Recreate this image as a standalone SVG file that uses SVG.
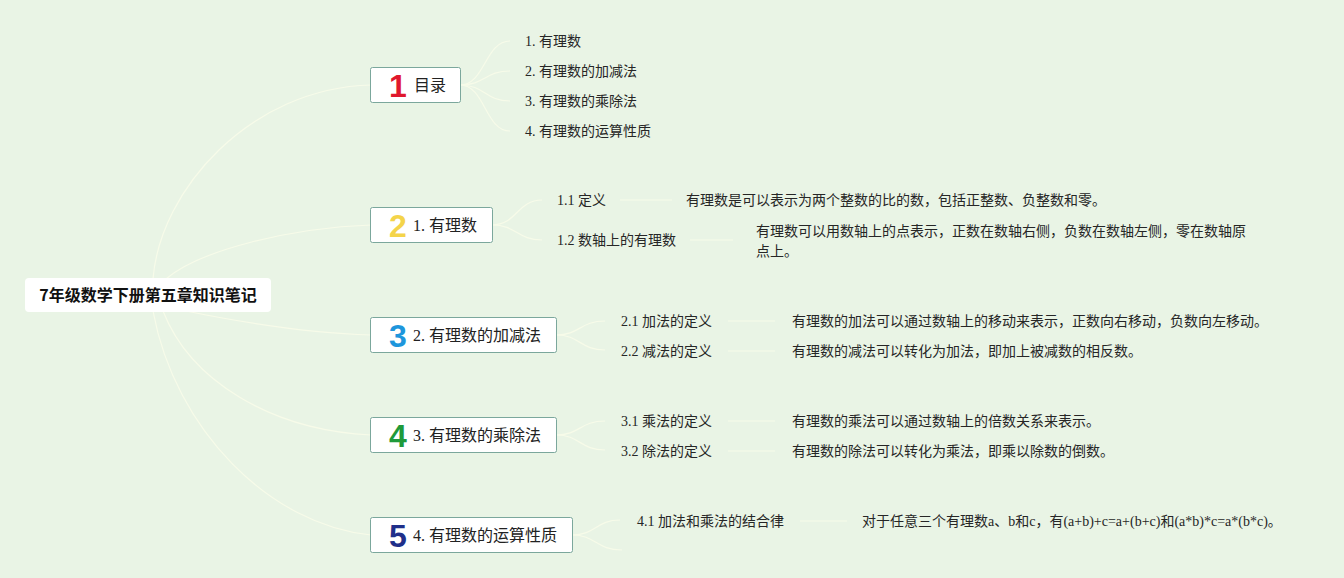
<svg xmlns="http://www.w3.org/2000/svg" width="1344" height="578" viewBox="0 0 1344 578">
<style>
.bg{fill:#e9f4e5}
.conn path{fill:none;stroke:#f7fbe9;stroke-width:1.2}
.conn line{stroke:#f7fbe9;stroke-width:1.2}
.box{fill:#ffffff;stroke:#7ba79c;stroke-width:1}
.lbl{font-family:"Liberation Serif","Noto Sans CJK SC",serif;font-size:16px;fill:#222}
.t{font-family:"Liberation Serif","Noto Sans CJK SC",serif;font-size:14px;fill:#262626}
.num{font-family:"Liberation Sans","DejaVu Sans",sans-serif;font-weight:bold;font-size:32px;text-anchor:middle}
.root{font-family:"Noto Sans CJK SC","Liberation Sans",sans-serif;font-weight:bold;font-size:16px;fill:#111;text-anchor:middle}
</style>
<rect class="bg" x="0" y="0" width="1344" height="578"/>
<g id="connectors" class="conn">
<path d="M153,279 C160,190 250,88 371,85"/>
<path d="M166,279 C200,250 290,228 371,225"/>
<path d="M186,311 C230,320 300,333 371,335"/>
<path d="M163,311 C190,380 270,430 371,435"/>
<path d="M153,311 C175,430 270,525 371,535"/>
<path d="M460,85 C485,85 485,41 510,41"/>
<path d="M460,85 C485,85 485,71 510,71"/>
<path d="M460,85 C485,85 485,101 510,101"/>
<path d="M460,85 C485,85 485,131 510,131"/>
<path d="M492,225 C517,225 517,200 542,200"/>
<path d="M492,225 C517,225 517,240 542,240"/>
<path d="M556,335 C580,335 580,321 605,321"/>
<path d="M556,335 C580,335 580,350 605,350"/>
<path d="M556,435 C580,435 580,421 605,421"/>
<path d="M556,435 C580,435 580,450 605,450"/>
<path d="M572,535 C596,535 596,520 620,520"/>
<path d="M572,535 C596,535 596,550 622,550"/>
<line x1="620" y1="200" x2="672" y2="200"/>
<line x1="690" y1="240" x2="733" y2="240"/>
<line x1="728" y1="321" x2="775" y2="321"/>
<line x1="728" y1="351" x2="775" y2="351"/>
<line x1="728" y1="421" x2="775" y2="421"/>
<line x1="728" y1="451" x2="775" y2="451"/>
<line x1="800" y1="521" x2="847" y2="521"/>
</g>
<g id="root">
<rect x="25" y="278" width="246" height="34" rx="4" fill="#ffffff"/>
<text class="root" x="148" y="301">7年级数学下册第五章知识笔记</text>
</g>
<g id="node1">
<rect class="box" x="370.5" y="67.5" width="90" height="35" rx="2"/>
<text class="num" x="398" y="97" fill="#e0182d">1</text>
<text class="lbl" x="414" y="91">目录</text>
</g>
<g id="node1-children">
<text class="t" x="525" y="46">1. 有理数</text>
<text class="t" x="525" y="76">2. 有理数的加减法</text>
<text class="t" x="525" y="106">3. 有理数的乘除法</text>
<text class="t" x="525" y="136">4. 有理数的运算性质</text>
</g>
<g id="node2">
<rect class="box" x="370.5" y="207.5" width="122" height="35" rx="2"/>
<text class="num" x="398" y="237" fill="#f4d44a">2</text>
<text class="lbl" x="413" y="231">1. 有理数</text>
</g>
<g id="node2-children">
<text class="t" x="557" y="205">1.1 定义</text>
<text class="t" x="686" y="205">有理数是可以表示为两个整数的比的数，包括正整数、负整数和零。</text>
<text class="t" x="557" y="245">1.2 数轴上的有理数</text>
<text class="t" x="756" y="236">有理数可以用数轴上的点表示，正数在数轴右侧，负数在数轴左侧，零在数轴原</text>
<text class="t" x="756" y="256">点上。</text>
</g>
<g id="node3">
<rect class="box" x="370.5" y="317.5" width="186" height="35" rx="2"/>
<text class="num" x="398" y="347" fill="#1e96dc">3</text>
<text class="lbl" x="413" y="341">2. 有理数的加减法</text>
</g>
<g id="node3-children">
<text class="t" x="621" y="326">2.1 加法的定义</text>
<text class="t" x="792" y="326">有理数的加法可以通过数轴上的移动来表示，正数向右移动，负数向左移动。</text>
<text class="t" x="621" y="356">2.2 减法的定义</text>
<text class="t" x="792" y="356">有理数的减法可以转化为加法，即加上被减数的相反数。</text>
</g>
<g id="node4">
<rect class="box" x="370.5" y="417.5" width="186" height="35" rx="2"/>
<text class="num" x="398" y="447" fill="#1f9a3a">4</text>
<text class="lbl" x="413" y="441">3. 有理数的乘除法</text>
</g>
<g id="node4-children">
<text class="t" x="621" y="426">3.1 乘法的定义</text>
<text class="t" x="792" y="426">有理数的乘法可以通过数轴上的倍数关系来表示。</text>
<text class="t" x="621" y="456">3.2 除法的定义</text>
<text class="t" x="792" y="456">有理数的除法可以转化为乘法，即乘以除数的倒数。</text>
</g>
<g id="node5">
<rect class="box" x="370.5" y="517.5" width="202" height="35" rx="2"/>
<text class="num" x="398" y="547" fill="#1f2f8a">5</text>
<text class="lbl" x="413" y="541">4. 有理数的运算性质</text>
</g>
<g id="node5-children">
<text class="t" x="637" y="526">4.1 加法和乘法的结合律</text>
<text class="t" x="862" y="526">对于任意三个有理数a、b和c，有(a+b)+c=a+(b+c)和(a*b)*c=a*(b*c)。</text>
</g>
</svg>
